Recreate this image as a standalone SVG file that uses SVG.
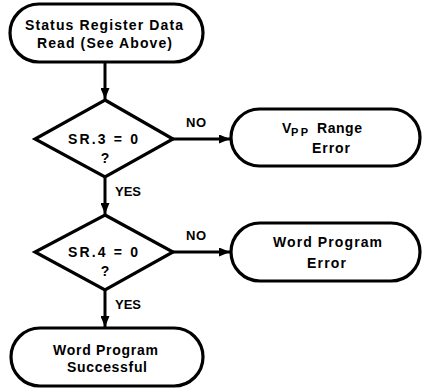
<svg xmlns="http://www.w3.org/2000/svg" width="423" height="389" viewBox="0 0 423 389">
<defs>
<style>
.box{fill:#fff;stroke:#000;stroke-width:3.2}
.t{font-family:"Liberation Sans",Arial,sans-serif;font-weight:bold;font-size:14px;fill:#000;text-anchor:middle}
.lbl{font-family:"Liberation Sans",Arial,sans-serif;font-weight:bold;font-size:13px;fill:#000}
.c{stroke:#000;stroke-width:3;fill:none}
</style>
<marker id="ah" markerWidth="11" markerHeight="9" refX="11" refY="4.5" orient="auto" markerUnits="userSpaceOnUse">
<path d="M0,0 L11,4.5 L0,9 Z" fill="#000"/>
</marker>
</defs>
<rect width="423" height="389" fill="#fff"/>
<g id="connectors">
<line class="c" x1="105" y1="62" x2="105" y2="99" marker-end="url(#ah)"/>
<line class="c" x1="173" y1="139" x2="230" y2="139" marker-end="url(#ah)"/>
<line class="c" x1="105" y1="177" x2="105" y2="214" marker-end="url(#ah)"/>
<line class="c" x1="173" y1="252" x2="230" y2="252" marker-end="url(#ah)"/>
<line class="c" x1="105" y1="290" x2="105" y2="327" marker-end="url(#ah)"/>
<text class="lbl" x="186" y="127" textLength="20" lengthAdjust="spacing">NO</text>
<text class="lbl" x="115" y="196" textLength="26" lengthAdjust="spacing">YES</text>
<text class="lbl" x="186" y="240" textLength="20" lengthAdjust="spacing">NO</text>
<text class="lbl" x="115" y="309" textLength="26" lengthAdjust="spacing">YES</text>
</g>
<g id="start">
<rect class="box" x="10" y="4" width="193" height="58" rx="29" ry="29"/>
<text class="t" x="104" y="30" textLength="158" lengthAdjust="spacing">Status Register Data</text>
<text class="t" x="104.5" y="48" textLength="135" lengthAdjust="spacing">Read (See Above)</text>
</g>
<g id="sr3">
<polygon class="box" points="105,100 173,139 105,177 35,139"/>
<text class="t" x="103" y="144" textLength="70" lengthAdjust="spacing">SR.3 = 0</text>
<text class="t" x="105" y="163">?</text>
</g>
<g id="vpp">
<rect class="box" x="231" y="109" width="189" height="57" rx="28.5" ry="28.5"/>
<text class="t" style="text-anchor:start" x="282" y="133">V<tspan x="291" y="136" font-size="11" textLength="17" lengthAdjust="spacing">PP</tspan><tspan x="317" y="133" textLength="45" lengthAdjust="spacing">Range</tspan></text>
<text class="t" x="331" y="153" textLength="38" lengthAdjust="spacing">Error</text>
</g>
<g id="sr4">
<polygon class="box" points="105,215 173,252 105,290 35,252"/>
<text class="t" x="103" y="257" textLength="70" lengthAdjust="spacing">SR.4 = 0</text>
<text class="t" x="105" y="276">?</text>
</g>
<g id="wperr">
<rect class="box" x="231" y="223" width="189" height="58" rx="29" ry="29"/>
<text class="t" x="327.5" y="247" textLength="109" lengthAdjust="spacing">Word Program</text>
<text class="t" x="326.5" y="268" textLength="39" lengthAdjust="spacing">Error</text>
</g>
<g id="success">
<rect class="box" x="11" y="328" width="192" height="58" rx="29" ry="29"/>
<text class="t" x="105.5" y="355" textLength="105" lengthAdjust="spacing">Word Program</text>
<text class="t" x="107" y="372" textLength="80" lengthAdjust="spacing">Successful</text>
</g>
</svg>
